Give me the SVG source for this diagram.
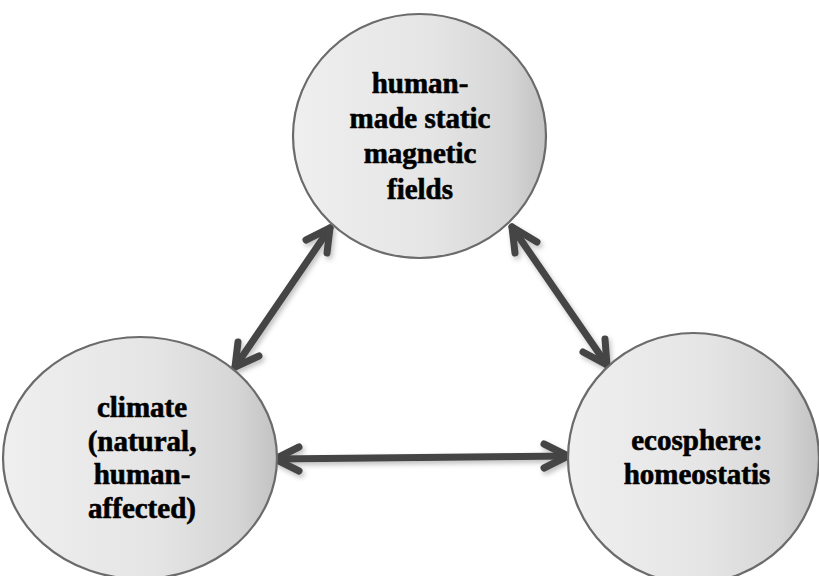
<svg xmlns="http://www.w3.org/2000/svg" width="819" height="576" viewBox="0 0 819 576">
  <defs>
    <linearGradient id="ballFill" x1="0" y1="0" x2="1" y2="0">
      <stop offset="0" stop-color="#efefef"/>
      <stop offset="0.55" stop-color="#e5e5e5"/>
      <stop offset="0.85" stop-color="#d6d6d6"/>
      <stop offset="1" stop-color="#c2c2c2"/>
    </linearGradient>
    <filter id="soft" x="-20%" y="-20%" width="140%" height="140%">
      <feDropShadow dx="2" dy="3" stdDeviation="2.5" flood-color="#000" flood-opacity="0.25"/>
    </filter>
    <style>
      .ball { fill: url(#ballFill); stroke: #6b6b6b; stroke-width: 2.2; }
      .label { font-family: "Liberation Serif", "Times New Roman", serif; font-weight: bold; font-size: 29px; fill: #000; stroke: #000; stroke-width: 0.6; text-anchor: middle; }
      .link { fill: none; stroke: #444444; stroke-width: 7; stroke-linecap: round; stroke-linejoin: round; }
    </style>
  </defs>
  <rect width="819" height="576" fill="#ffffff"/>

  <!-- connectors: double-headed arrows between the three spheres -->
  <g id="connectors" filter="url(#soft)">
    <!-- climate <-> human-made fields -->
    <path class="link" d="M235,367 L330,228"/>
    <path class="link" d="M306,240 L330,228 L327,253"/>
    <path class="link" d="M238,342 L235,367 L259,356"/>
    <!-- human-made fields <-> ecosphere -->
    <path class="link" d="M512,227 L607,365"/>
    <path class="link" d="M537,242 L512,227 L515,253"/>
    <path class="link" d="M583,352 L607,365 L605,339"/>
    <!-- climate <-> ecosphere -->
    <path class="link" d="M275,459 L568,456"/>
    <path class="link" d="M299,447 L275,459 L299,471"/>
    <path class="link" d="M544,444 L568,456 L544,468"/>
  </g>

  <g id="node-fields">
    <ellipse class="ball" cx="419.5" cy="136" rx="126.5" ry="122"/>
    <text class="label" x="420" y="93">human-</text>
    <text class="label" x="420" y="128">made static</text>
    <text class="label" x="420" y="163">magnetic</text>
    <text class="label" x="420" y="199">fields</text>
  </g>

  <g id="node-climate">
    <ellipse class="ball" cx="140" cy="458" rx="137" ry="121"/>
    <text class="label" x="142" y="417">climate</text>
    <text class="label" x="142" y="451">(natural,</text>
    <text class="label" x="142" y="484">human-</text>
    <text class="label" x="142" y="518">affected)</text>
  </g>

  <g id="node-ecosphere">
    <ellipse class="ball" cx="693.5" cy="458" rx="125.5" ry="125"/>
    <text class="label" x="697" y="450">ecosphere:</text>
    <text class="label" x="697" y="484">homeostatis</text>
  </g>
</svg>
